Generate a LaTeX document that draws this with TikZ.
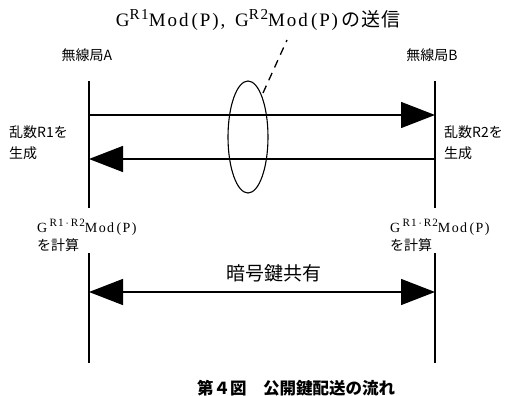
\documentclass[tikz,border=0pt]{standalone}
\usepackage{fontspec}
\setmainfont{Liberation Serif}
\newfontfamily\wideserif{Liberation Serif}[LetterSpace=10]
\newfontfamily\jp{Noto Sans CJK JP}
\newfontfamily\widejp{Noto Sans CJK JP}[LetterSpace=5]
\usetikzlibrary{arrows.meta,shapes.geometric}
\newcommand\mysup[1]{\raisebox{0.42em}{\scalebox{0.8}{#1}}}
\tikzset{
  life/.style={line width=1.1pt},
  tip/.tip={Triangle[length=34pt,width=26pt]},
  msg/.style={line width=1.4pt, -tip, fill=black!85},
  lbl/.style={inner sep=0pt, font=\fontsize{14}{16}\selectfont},
}
\begin{document}
\begin{tikzpicture}[x=1pt,y=-1pt]
\useasboundingbox (0,0) rectangle (515,396);
% life lines
\coordinate (A1) at (89,81);  \coordinate (A2) at (89,208);
\coordinate (A3) at (89,253); \coordinate (A4) at (89,363);
\coordinate (B1) at (435,81); \coordinate (B2) at (435,208);
\coordinate (B3) at (435,253); \coordinate (B4) at (435,363);
\draw[life] (A1) -- (A2);
\draw[life] (A3) -- (A4);
\draw[life] (B1) -- (B2);
\draw[life] (B3) -- (B4);
% messages
\coordinate (m1a) at (89,115); \coordinate (m1b) at (435,115);
\coordinate (m2a) at (435,159); \coordinate (m2b) at (89,159);
\coordinate (k1) at (89,292); \coordinate (k2) at (435,292);
\draw[msg] (m1a) -- (m1b);
\draw[msg] (m2a) -- (m2b);
\draw[msg, tip-tip] (k1) -- (k2);
% ellipse
\node[draw, line width=1.1pt, ellipse, minimum width=40pt, minimum height=112pt, inner sep=0pt] (ell) at (248,137) {};
\coordinate (d1) at (263,93);
\coordinate (d2) at (287,40);
\draw[line width=1.3pt, dash pattern=on 8pt off 6pt] (d1) -- (d2);
% texts
\node[inner sep=0pt, font=\fontsize{19}{21}\selectfont\wideserif] (title) at (258,20)
  {G\mysup{R1}Mod\,(P),\, G\mysup{R2}Mod\,(P)\,\widejp{の送信}};
\node[lbl] (sa) at (87,55) {\jp{無線局}A};
\node[lbl] (sb) at (432,55) {\jp{無線局}B};
\node[lbl, anchor=west] (ra1) at (9,132) {\jp{乱数}R1\jp{を}};
\node[lbl, anchor=west] (ra2) at (9,153) {\jp{生成}};
\node[lbl, anchor=west] (rb1) at (444,132) {\jp{乱数}R2\jp{を}};
\node[lbl, anchor=west] (rb2) at (444,153) {\jp{生成}};
\node[lbl, anchor=west, font=\fontsize{14}{16}\selectfont\wideserif] (ca1) at (37,227) {G\,\mysup{R1\,$\cdot$\,R2}Mod\,(P)};
\node[lbl, anchor=west] (ca2) at (37,245) {\jp{を計算}};
\node[lbl, anchor=west, font=\fontsize{14}{16}\selectfont\wideserif] (cb1) at (390,227) {G\,\mysup{R1\,$\cdot$\,R2}Mod\,(P)};
\node[lbl, anchor=west] (cb2) at (390,245) {\jp{を計算}};
\node[inner sep=0pt, font=\fontsize{19}{21}\selectfont] (key) at (274,273) {\jp{暗号鍵共有}};
\node[inner sep=0pt, font=\fontsize{16.5}{18}\selectfont\bfseries] (cap) at (296,388) {\jp{第４図　公開鍵配送の流れ}};
\end{tikzpicture}
\end{document}
